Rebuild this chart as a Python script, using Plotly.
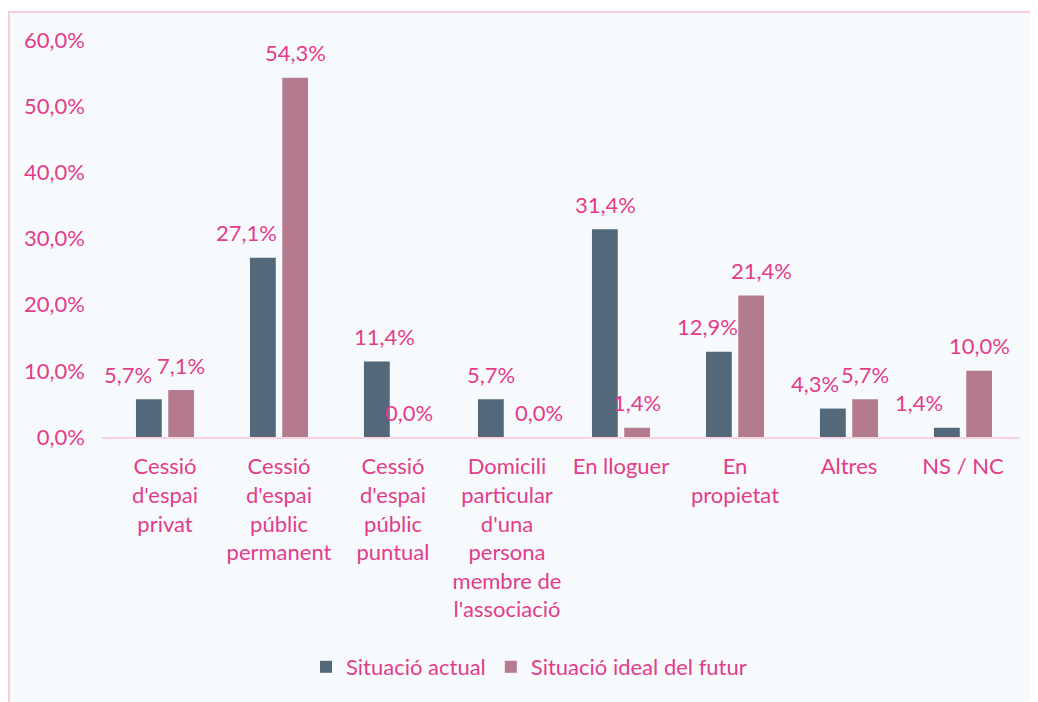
import plotly.graph_objects as go

categories = [
    "Cessió<br>d'espai<br>privat",
    "Cessió<br>d'espai<br>públic<br>permanent",
    "Cessió<br>d'espai<br>públic<br>puntual",
    "Domicili<br>particular<br>d'una<br>persona<br>membre de<br>l'associació",
    "En lloguer",
    "En<br>propietat",
    "Altres",
    "NS / NC",
]
series_names = ["Situació actual", "Situació ideal del futur"]
actual = [5.7, 27.1, 11.4, 5.7, 31.4, 12.9, 4.3, 1.4]
ideal = [7.1, 54.3, 0.0, 0.0, 1.4, 21.4, 5.7, 10.0]
y_ticks = [0, 10, 20, 30, 40, 50, 60]
y_ticktext = ["0,0%", "10,0%", "20,0%", "30,0%", "40,0%", "50,0%", "60,0%"]

# style: horizontal label nudges (px) to avoid overlaps, as in the original
dx_actual = [-21, -17, 7, 0, 0, -12, -18, -28]
dx_ideal = [0, 0, 0, 16, 0, 10, 0, 0]

TXT = "#E23C8A"
FONT = "Lato"
FS = 22
C_ACT = "#536878"
C_IDE = "#B47B8E"

# page has an 8px body margin; figure is placed at (8, 8)
W, H = 1030, 694
ml, mr, mt, mb = 94, 18, 32, 265
pw, ph = W - ml - mr, H - mt - mb

fig = go.Figure()
fig.add_bar(x=categories, y=actual, name=series_names[0], marker_color=C_ACT,
            marker_line_width=0, offsetgroup="a")
fig.add_bar(x=categories, y=ideal, name=series_names[1], marker_color=C_IDE,
            marker_line_width=0, offsetgroup="b")

def fmt(v):
    return f"{v:.1f}".replace(".", ",") + "%"

annotations = []
for i, c in enumerate(categories):
    for vals, dxs, grp_off in ((actual, dx_actual, -16), (ideal, dx_ideal, 16)):
        annotations.append(dict(
            x=c, y=vals[i], xref="x", yref="y", text=fmt(vals[i]),
            showarrow=False, yanchor="middle", yshift=25,
            xshift=grp_off + dxs[i],
            font=dict(family=FONT, size=FS, color=TXT),
        ))

fig.update_layout(
    width=W, height=H,
    margin=dict(l=ml, r=mr, t=mt, b=mb, autoexpand=False),
    paper_bgcolor="white",
    plot_bgcolor="rgba(0,0,0,0)",
    barmode="group",
    bargap=0.434,
    bargroupgap=0.2,
    font=dict(family=FONT, size=FS, color=TXT),
    showlegend=True,
    legend=dict(orientation="h", x=(521 - ml) / pw, xanchor="center",
                y=((H - mb) - 659) / ph, yanchor="middle",
                font=dict(family=FONT, size=FS, color=TXT),
                bgcolor="rgba(0,0,0,0)", itemwidth=30, traceorder="normal"),
    annotations=annotations,
    shapes=[dict(
        type="rect", xref="paper", yref="paper", layer="below",
        x0=(1 - ml) / pw, x1=(W + 20 - ml) / pw,
        y0=-(mb + 20) / ph, y1=((H - mb) - 4) / ph,
        fillcolor="#F7FAFD", line=dict(color="#F8CCE0", width=2),
    )],
)
fig.update_xaxes(
    showgrid=False, showline=True, linecolor="#F8D3E4", linewidth=2,
    ticks="", tickangle=0, ticklabelstandoff=9,
    tickfont=dict(family=FONT, size=FS, color=TXT),
)
fig.update_yaxes(
    range=[0, 60], tickvals=y_ticks, ticktext=y_ticktext,
    showgrid=False, zeroline=False, showline=False, ticks="",
    ticklabelstandoff=16,
    tickfont=dict(family=FONT, size=FS, color=TXT),
)
for tr in fig.data:
    tr.cliponaxis = False

fig.write_html("out.html")
